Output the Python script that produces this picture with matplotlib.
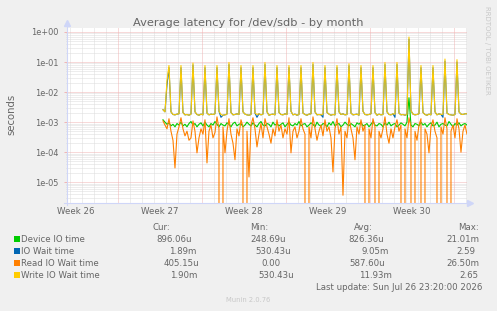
import numpy as np
import matplotlib
matplotlib.use('Agg')
import matplotlib.pyplot as plt
from matplotlib.ticker import LogLocator, FuncFormatter, NullFormatter
from matplotlib.patches import Rectangle

# ---------------- data ----------------
title = "Average latency for /dev/sdb - by month"
ylabel = "seconds"
week_labels = ["Week 26", "Week 27", "Week 28", "Week 29", "Week 30"]
series_names = ["Device IO time", "IO Wait time", "Read IO Wait time", "Write IO Wait time"]
series_colors = ["#00CC00", "#0066B3", "#FF8000", "#FFCC00"]

# samples every 4 hours, starting ~8 days after the left edge of the plot
start_day = 8.04
step_days = 1.0 / 6.0

device_io = [
    1.2e-3, 1.0e-3, 8.5e-4, 9.5e-4, 7.5e-4, 8.5e-4, 7e-4, 9e-4, 8e-4, 1.0e-3,
    7.5e-4, 8.5e-4, 7e-4, 9e-4, 1.05e-3, 8e-4, 9e-4, 7e-4, 8.5e-4, 9.5e-4,
    7.5e-4, 1.0e-3, 8e-4, 7e-4, 9e-4, 8e-4, 1.05e-3, 8.5e-4, 7e-4, 9e-4,
    8e-4, 7.5e-4, 9.5e-4, 8.5e-4, 7e-4, 9e-4, 1.0e-3, 7.5e-4, 8.5e-4, 9e-4,
    7e-4, 8e-4, 1.0e-3, 8.5e-4, 7.5e-4, 9.5e-4, 8e-4, 7e-4, 9e-4, 1.05e-3,
    8e-4, 7.5e-4, 9e-4, 8.5e-4, 7e-4, 1.0e-3, 8e-4, 9e-4, 7.5e-4, 8.5e-4,
    9.5e-4, 7e-4, 8.5e-4, 1.0e-3, 8e-4, 7.5e-4, 9e-4, 8e-4, 1.05e-3, 7.5e-4,
    8.5e-4, 9e-4, 7e-4, 8e-4, 9.5e-4, 8.5e-4, 7e-4, 1.0e-3, 8e-4, 7.5e-4,
    9e-4, 8.5e-4, 7e-4, 9.5e-4, 8e-4, 1.05e-3, 7.5e-4, 8.5e-4, 9e-4, 7e-4,
    8e-4, 1.0e-3, 8.5e-4, 7.5e-4, 9e-4, 8e-4, 7e-4, 9.5e-4, 8.5e-4, 1.0e-3,
    7.5e-4, 8e-4, 9e-4, 7e-4, 8.5e-4, 1.05e-3, 8e-4, 7.5e-4, 9e-4, 8.5e-4,
    7e-4, 9.5e-4, 8e-4, 1.0e-3, 7.5e-4, 8.5e-4, 9e-4, 7e-4, 8e-4, 9.5e-4,
    8.5e-4, 7.5e-4, 1.0e-3, 6.5e-3, 8e-4, 7e-4, 9e-4, 8.5e-4, 7.5e-4, 1.0e-3,
    8e-4, 9e-4, 7e-4, 8.5e-4, 9.5e-4, 7.5e-4, 8e-4, 1.0e-3, 7e-4, 8.5e-4,
    9e-4, 8e-4, 7.5e-4, 1.05e-3, 8.5e-4, 7e-4, 9e-4, 8e-4, 9.5e-4, 7.5e-4,
    8.5e-4, 9e-4, 8e-4,
]

io_wait = [
    2.6e-3, 2.2e-3, 1.7e-2,
    6.5e-2, 2.2e-3, 1.8e-3, 1.75e-3, 1.85e-3, 1.9e-3,
    6.5e-2, 2.1e-3, 1.75e-3, 1.8e-3, 1.7e-3, 1.85e-3,
    8.0e-2, 2.2e-3, 1.8e-3, 1.7e-3, 1.85e-3, 1.75e-3,
    6.5e-2, 2.0e-3, 1.75e-3, 1.85e-3, 1.8e-3, 1.9e-3,
    6.5e-2, 2.3e-3, 1.45e-3, 1.7e-3, 1.75e-3, 1.85e-3,
    8.2e-2, 2.1e-3, 1.75e-3, 1.8e-3, 1.9e-3, 1.8e-3,
    6.5e-2, 2.2e-3, 1.85e-3, 1.75e-3, 1.7e-3, 1.8e-3,
    6.5e-2, 2.0e-3, 1.45e-3, 1.9e-3, 1.75e-3, 1.85e-3,
    8.2e-2, 2.2e-3, 1.7e-3, 1.8e-3, 1.85e-3, 1.75e-3,
    6.5e-2, 2.1e-3, 1.8e-3, 1.75e-3, 1.9e-3, 1.8e-3,
    6.5e-2, 2.3e-3, 1.75e-3, 1.85e-3, 1.7e-3, 1.8e-3,
    6.5e-2, 2.0e-3, 1.8e-3, 1.7e-3, 1.85e-3, 1.9e-3,
    8.2e-2, 2.2e-3, 1.75e-3, 1.8e-3, 1.75e-3, 1.45e-3,
    6.5e-2, 2.1e-3, 1.85e-3, 1.7e-3, 1.8e-3, 1.75e-3,
    6.5e-2, 2.2e-3, 1.8e-3, 1.9e-3, 1.75e-3, 1.8e-3,
    7.5e-2, 2.0e-3, 1.75e-3, 1.8e-3, 1.85e-3, 1.7e-3,
    6.5e-2, 2.3e-3, 1.8e-3, 1.75e-3, 1.8e-3, 1.9e-3,
    6.5e-2, 2.1e-3, 1.7e-3, 1.85e-3, 1.75e-3, 1.8e-3,
    8.2e-2, 2.2e-3, 1.8e-3, 1.75e-3, 1.9e-3, 1.45e-3,
    8.2e-2, 2.0e-3, 1.75e-3, 1.8e-3, 1.7e-3, 1.8e-3,
    5.8e-1, 2.4e-3, 1.85e-3, 1.75e-3, 1.8e-3, 1.9e-3,
    6.5e-2, 2.1e-3, 1.8e-3, 1.7e-3, 1.85e-3, 1.75e-3,
    6.5e-2, 2.2e-3, 1.75e-3, 1.9e-3, 1.8e-3, 1.45e-3,
    1.07e-1, 2.0e-3, 1.8e-3, 1.75e-3, 1.7e-3, 1.8e-3,
    1.0e-1, 2.2e-3, 1.85e-3, 1.8e-3, 1.9e-3, 1.9e-3,
]

read_io_wait = [
    1.1e-3, 8e-4, 6e-4, 1.3e-3, 5e-4, 2.5e-4, 3.0e-5, 4e-4, 7e-4, 1.4e-3,
    6e-4, 3.5e-4, 5e-4, 2.5e-4, 3e-4, 1.1e-3, 5e-4, 9.5e-5, 3e-4, 6e-4,
    4e-4, 1.2e-3, 4.4e-5, 5e-4, 8e-4, 3e-4, 4.5e-4, 1.5e-3, 6e-4, 0.0,
    7e-4, 9.5e-5, 5e-4, 1.3e-3, 4e-4, 2e-4, 5.6e-5, 6e-4, 3.5e-4, 1.2e-3,
    7e-4, 0.0, 5e-4, 1.5e-5, 8e-4, 1.4e-3, 6e-4, 1.5e-4, 4e-4, 9e-4,
    3e-4, 1.3e-3, 7e-4, 4e-4, 2e-4, 6e-4, 3.5e-4, 1.2e-3, 5e-4, 8e-4,
    3e-4, 6e-4, 4e-4, 1.4e-3, 9.5e-5, 5e-4, 7e-4, 3e-4, 5e-4, 1.3e-3,
    6e-4, 4e-4, 0.0, 7e-4, 3e-4, 1.5e-3, 6e-4, 2.5e-4, 5e-4, 8e-4,
    3.5e-4, 1.2e-3, 5e-4, 7e-4, 3e-4, 2.2e-5, 6e-4, 1.3e-3, 4e-4, 7e-4,
    3.7e-6, 5e-4, 3e-4, 1.4e-3, 6e-4, 3e-4, 5.6e-5, 7e-4, 4e-4, 1.2e-3,
    5e-4, 8e-4, 0.0, 6e-4, 3e-4, 1.3e-3, 7e-4, 0.0, 5e-4, 3e-4,
    6e-4, 1.5e-3, 4e-4, 2e-4, 6e-4, 3e-4, 7e-4, 1.2e-3, 5e-4, 8e-4,
    0.0, 6e-4, 3e-4, 1.4e-3, 7e-4, 0.0, 5e-4, 2.5e-4, 8e-4, 1.3e-3,
    0.0, 6e-4, 4e-4, 9.5e-5, 7e-4, 1.2e-3, 5e-4, 3e-4, 0.0, 7e-4,
    4e-4, 1.4e-3, 6e-4, 0.0, 5e-4, 8e-4, 3e-4, 1.3e-3, 6e-4, 1.0e-4,
    5e-4, 8e-4, 4e-4,
]

write_io_wait = [
    2.6e-3, 2.2e-3, 2.4e-2,
    7.7e-2, 2.2e-3, 1.8e-3, 1.75e-3, 1.85e-3, 1.9e-3,
    7.7e-2, 2.1e-3, 1.75e-3, 1.8e-3, 1.7e-3, 1.85e-3,
    9.3e-2, 2.2e-3, 1.8e-3, 1.7e-3, 1.85e-3, 1.75e-3,
    7.7e-2, 2.0e-3, 1.75e-3, 1.85e-3, 1.8e-3, 1.9e-3,
    7.7e-2, 2.3e-3, 1.8e-3, 1.7e-3, 1.75e-3, 1.85e-3,
    9.7e-2, 2.1e-3, 1.75e-3, 1.8e-3, 1.9e-3, 1.8e-3,
    7.7e-2, 2.2e-3, 1.85e-3, 1.75e-3, 1.7e-3, 1.8e-3,
    7.7e-2, 2.0e-3, 1.8e-3, 1.9e-3, 1.75e-3, 1.85e-3,
    9.7e-2, 2.2e-3, 1.7e-3, 1.8e-3, 1.85e-3, 1.75e-3,
    7.7e-2, 2.1e-3, 1.8e-3, 1.75e-3, 1.9e-3, 1.8e-3,
    7.7e-2, 2.3e-3, 1.75e-3, 1.85e-3, 1.7e-3, 1.8e-3,
    7.7e-2, 2.0e-3, 1.8e-3, 1.7e-3, 1.85e-3, 1.9e-3,
    9.7e-2, 2.2e-3, 1.75e-3, 1.8e-3, 1.75e-3, 1.85e-3,
    7.7e-2, 2.1e-3, 1.85e-3, 1.7e-3, 1.8e-3, 1.75e-3,
    7.7e-2, 2.2e-3, 1.8e-3, 1.9e-3, 1.75e-3, 1.8e-3,
    8.8e-2, 2.0e-3, 1.75e-3, 1.8e-3, 1.85e-3, 1.7e-3,
    7.7e-2, 2.3e-3, 1.8e-3, 1.75e-3, 1.8e-3, 1.9e-3,
    7.7e-2, 2.1e-3, 1.7e-3, 1.85e-3, 1.75e-3, 1.8e-3,
    9.7e-2, 2.2e-3, 1.8e-3, 1.75e-3, 1.9e-3, 1.85e-3,
    9.7e-2, 2.0e-3, 1.75e-3, 1.8e-3, 1.7e-3, 1.8e-3,
    6.8e-1, 2.4e-3, 1.85e-3, 1.75e-3, 1.8e-3, 1.9e-3,
    7.7e-2, 2.1e-3, 1.8e-3, 1.7e-3, 1.85e-3, 1.75e-3,
    7.7e-2, 2.2e-3, 1.75e-3, 1.9e-3, 1.8e-3, 1.85e-3,
    1.26e-1, 2.0e-3, 1.8e-3, 1.75e-3, 1.7e-3, 1.8e-3,
    1.2e-1, 2.2e-3, 1.85e-3, 1.8e-3, 1.9e-3, 1.9e-3,
]

stat_headers = ["Cur:", "Min:", "Avg:", "Max:"]
stat_cur = ["896.06u", "1.89m", "405.15u", "1.90m"]
stat_min = ["248.69u", "530.43u", "0.00", "530.43u"]
stat_avg = ["826.36u", "9.05m", "587.60u", "11.93m"]
stat_max = ["21.01m", "2.59", "26.50m", "2.65"]
last_update = "Last update: Sun Jul 26 23:20:00 2026"
watermark = "RRDTOOL / TOBI OETIKER"
footer = "Munin 2.0.76"

# ---------------- layout / style ----------------
W, H = 497, 311
FONT = '#666666'
GRID = '#dcdcdc'
MGRID = '#f0b4b4'
AXISC = '#CFD6F8'
DOT = (0, (1, 1))

def fx(x):
    return x / W

def fy(y):
    return 1 - y / H

fig = plt.figure(figsize=(W / 100, H / 100), dpi=100, facecolor='#F0F0F0')
L, R, T, B = 66.5, 467.5, 27.7, 202.7
ax = fig.add_axes([fx(L), fy(B), (R - L) / W, (B - T) / H])
ax.set_facecolor('white')
ax.set_yscale('log', nonpositive='clip')

span_days = (R - L) / 12.0
ax.set_xlim(0, span_days)
ax.set_ylim(10 ** -5.68, 10 ** 0.143)

first_week = 4.29
weeks = [first_week + 7 * k for k in range(5)]
days = np.arange(first_week - 4, span_days, 1.0)
for d in days:
    if min(abs(d - w) for w in weeks) < 0.01:
        continue
    ax.axvline(d, color=GRID, lw=0.72, ls=DOT, zorder=0.5)
for w in weeks:
    ax.axvline(w, color=MGRID, lw=0.72, ls=DOT, zorder=0.6)

ax.yaxis.set_major_locator(LogLocator(base=10, numticks=20))
ax.yaxis.set_minor_locator(LogLocator(base=10, subs=np.arange(2, 10), numticks=20))
ax.yaxis.set_major_formatter(FuncFormatter(lambda v, p: f"{v:.0e}"))
ax.yaxis.set_minor_formatter(NullFormatter())
ax.yaxis.grid(True, which='minor', color=GRID, lw=0.72, ls=DOT, zorder=0.5)
ax.yaxis.grid(True, which='major', color=MGRID, lw=0.72, ls=DOT, zorder=0.6)
ax.set_axisbelow(True)
ax.tick_params(axis='y', which='major', length=2.5, width=0.7, color=MGRID,
               labelsize=5.9, labelcolor=FONT, pad=3)
ax.tick_params(axis='y', which='minor', length=1, width=0.7, color=GRID)

ax.set_xticks([w - 3.5 for w in weeks])
ax.set_xticklabels(week_labels)
ax.tick_params(axis='x', which='both', length=0, labelsize=6.2, labelcolor=FONT, pad=3)

for s in ax.spines.values():
    s.set_visible(False)

# data lines
x = start_day + step_days * np.arange(len(write_io_wait))
for vals, col in zip([device_io, io_wait, read_io_wait, write_io_wait], series_colors):
    ax.plot(x, vals, color=col, lw=0.8, zorder=3)

# axes with arrows
h_ax = B - T
w_ax = R - L
ax.plot([0, 0], [-2.0 / h_ax, 1 + 4.0 / h_ax], transform=ax.transAxes, color=AXISC,
        lw=0.8, clip_on=False, zorder=4)
ax.plot([0], [1 + 4.5 / h_ax], transform=ax.transAxes, marker='^', ms=4, color=AXISC,
        mec=AXISC, clip_on=False, zorder=4)
ax.plot([-3.0 / w_ax, 1 + 2.0 / w_ax], [0, 0], transform=ax.transAxes, color=AXISC,
        lw=0.8, clip_on=False, zorder=4)
ax.plot([1 + 2.5 / w_ax], [0], transform=ax.transAxes, marker='>', ms=4, color=AXISC,
        mec=AXISC, clip_on=False, zorder=4)

# texts
fig.text(fx(248), fy(25.7), title, ha='center', va='baseline', fontsize=8.2, color=FONT)
fig.text(fx(11.5), fy(114), ylabel, rotation=90, ha='center', va='center',
         fontsize=7.3, color=FONT)
fig.text(fx(487), fy(50), watermark, rotation=270, ha='center', va='center',
         fontsize=5.0, color='#C8C8C8')

LEG = 6.25
row_base = [242.5, 254.5, 266.5, 278.5]
header_x = [152.7, 250, 354, 457.7]
cell_x = [
    [156.7, 250.0, 348.7, 446.7],
    [169.3, 255.7, 361.0, 456.7],
    [163.3, 261.7, 349.0, 446.7],
    [170.0, 258.3, 359.3, 459.3],
]
for hx, htxt in zip(header_x, stat_headers):
    fig.text(fx(hx), fy(230.5), htxt, ha='left', va='baseline', fontsize=LEG, color=FONT)
for j, name in enumerate(series_names):
    yb = row_base[j]
    fig.add_artist(Rectangle((fx(14), fy(yb - 0.3)), 6 / W, 6 / H,
                             transform=fig.transFigure, facecolor=series_colors[j],
                             edgecolor='none'))
    fig.text(fx(21), fy(yb), name, ha='left', va='baseline', fontsize=LEG, color=FONT)
    for c, vals in enumerate([stat_cur, stat_min, stat_avg, stat_max]):
        fig.text(fx(cell_x[j][c]), fy(yb), vals[j], ha='left', va='baseline',
                 fontsize=LEG, color=FONT)
fig.text(fx(482.3), fy(290.5), last_update, ha='right', va='baseline', fontsize=LEG, color=FONT)
fig.text(fx(248), fy(301.7), footer, ha='center', va='baseline', fontsize=4.9, color='#C8C8C8')

fig.savefig('out.png', dpi=100, facecolor=fig.get_facecolor())
